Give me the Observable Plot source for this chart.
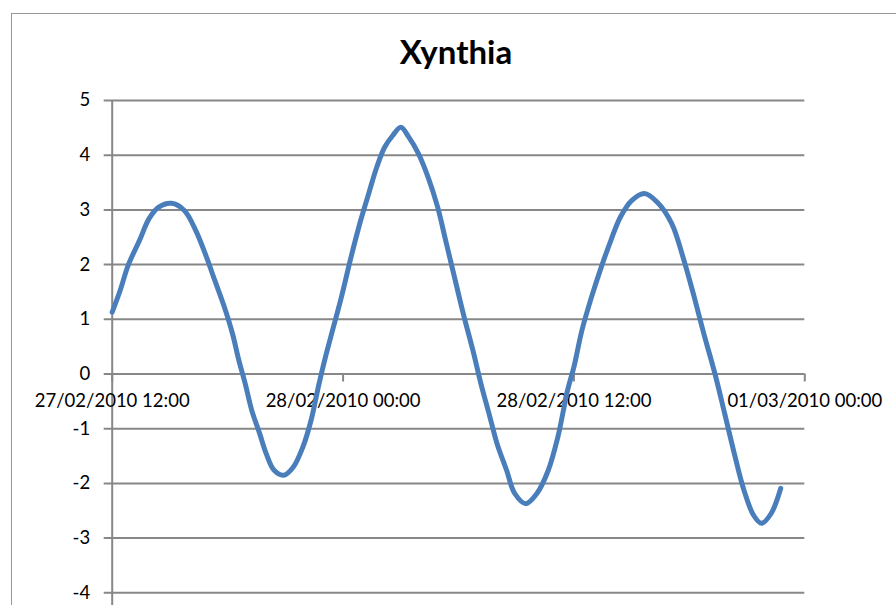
<!DOCTYPE html>
<html>
<head>
<meta charset="utf-8">
<script src="https://cdn.jsdelivr.net/npm/d3@7"></script>
<script src="https://cdn.jsdelivr.net/npm/@observablehq/plot@0.6"></script>
<style>
  html, body { margin: 0; padding: 0; background: #fff; overflow: hidden; }
  #frame { position: absolute; left: 10.5px; top: 12.5px; width: 1200px; height: 1000px;
           border: 1.5px solid #979797; box-sizing: border-box; }
  #title { position: absolute; left: 0; width: 912px; top: 31px; text-align: center;
           font-family: Lato, "Liberation Sans", sans-serif; font-weight: bold; font-size: 33px;
           line-height: normal; color: #000; }
  #chart { position: absolute; left: 0; top: 0; }
</style>
</head>
<body>
<div id="frame"></div>
<div id="title">Xynthia</div>
<div id="chart"></div>
<script>
// Water level (m) during storm Xynthia, 27/02/2010 12:00 – 28/02/2010 22:45
const times = [
  "2010-02-27T12:00", "2010-02-27T12:25", "2010-02-27T12:50", "2010-02-27T13:25", "2010-02-27T13:55",
  "2010-02-27T14:25", "2010-02-27T15:05", "2010-02-27T15:45", "2010-02-27T16:20", "2010-02-27T16:50",
  "2010-02-27T17:20", "2010-02-27T17:50", "2010-02-27T18:15", "2010-02-27T18:35", "2010-02-27T18:55",
  "2010-02-27T19:15", "2010-02-27T19:40", "2010-02-27T20:00", "2010-02-27T20:25", "2010-02-27T20:55",
  "2010-02-27T21:25", "2010-02-27T21:55", "2010-02-27T22:20", "2010-02-27T22:45", "2010-02-27T23:05",
  "2010-02-27T23:30", "2010-02-27T23:55", "2010-02-28T00:25", "2010-02-28T00:55", "2010-02-28T01:20",
  "2010-02-28T01:45", "2010-02-28T02:10", "2010-02-28T02:35", "2010-02-28T03:00", "2010-02-28T03:25",
  "2010-02-28T03:55", "2010-02-28T04:25", "2010-02-28T04:55", "2010-02-28T05:20", "2010-02-28T05:45",
  "2010-02-28T06:15", "2010-02-28T06:45", "2010-02-28T07:10", "2010-02-28T07:35", "2010-02-28T08:00",
  "2010-02-28T08:30", "2010-02-28T08:55", "2010-02-28T09:30", "2010-02-28T10:05", "2010-02-28T10:40",
  "2010-02-28T11:10", "2010-02-28T11:40", "2010-02-28T12:00", "2010-02-28T12:25", "2010-02-28T12:55",
  "2010-02-28T13:25", "2010-02-28T13:55", "2010-02-28T14:25", "2010-02-28T15:00", "2010-02-28T15:40",
  "2010-02-28T16:20", "2010-02-28T17:05", "2010-02-28T17:40", "2010-02-28T18:15", "2010-02-28T18:45",
  "2010-02-28T19:20", "2010-02-28T19:50", "2010-02-28T20:20", "2010-02-28T20:50", "2010-02-28T21:20",
  "2010-02-28T21:45", "2010-02-28T22:15", "2010-02-28T22:45"
];
const levels = [
  1.13, 1.53, 1.99, 2.44, 2.84,
  3.05, 3.12, 2.99, 2.63, 2.20,
  1.71, 1.22, 0.74, 0.25, -0.18,
  -0.66, -1.09, -1.45, -1.76, -1.85,
  -1.70, -1.33, -0.85, -0.18, 0.31,
  0.86, 1.41, 2.14, 2.81, 3.30,
  3.78, 4.15, 4.36, 4.51, 4.33,
  4.03, 3.60, 3.05, 2.44, 1.83,
  1.10, 0.43, -0.18, -0.72, -1.27,
  -1.76, -2.18, -2.37, -2.18, -1.76,
  -1.15, -0.30, 0.13, 0.80, 1.41,
  1.95, 2.44, 2.87, 3.17, 3.30,
  3.14, 2.75, 2.14, 1.41, 0.74,
  0.00, -0.72, -1.45, -2.12, -2.58,
  -2.73, -2.55, -2.09
];

const xTickTimes = ["2010-02-27T12:00", "2010-02-28T00:00", "2010-02-28T12:00", "2010-03-01T00:00"];
const xTickLabels = ["27/02/2010 12:00", "28/02/2010 00:00", "28/02/2010 12:00", "01/03/2010 00:00"];
const yTicks = [-4, -3, -2, -1, 0, 1, 2, 3, 4, 5];

const series = times.map((t, i) => ({time: new Date(t), level: levels[i]}));
const xTicks = xTickTimes.map((t, i) => ({time: new Date(t), label: xTickLabels[i]}));
const xStart = xTicks[0].time;
const xEnd = xTicks[xTicks.length - 1].time;

const grey = "#878787";
const font = "Lato, 'Liberation Sans', sans-serif";

const chart = Plot.plot({
  width: 896,
  height: 657,
  marginLeft: 111.7,
  marginRight: 91.7,
  marginTop: 100,
  marginBottom: 10,
  style: {fontFamily: font, fontSize: "18.5px", color: "#000", background: "transparent", overflow: "visible"},
  x: {type: "time", domain: [xStart, xEnd], axis: null},
  y: {domain: [-5, 5], axis: null},
  marks: [
    // horizontal gridlines, extended left as tick marks
    Plot.ruleY(yTicks, {x1: xStart, x2: xEnd, stroke: grey, strokeWidth: 2, insetLeft: -8}),
    // vertical value axis
    Plot.ruleX([xStart], {y1: -5, y2: 5, stroke: grey, strokeWidth: 2}),
    // category tick marks hanging below the zero line
    Plot.ruleX(xTicks, {x: "time", y1: 0, y2: 0, insetBottom: -8, stroke: grey, strokeWidth: 2}),
    // value labels
    Plot.text(yTicks, {x: xStart, y: d => d, text: d => String(d), textAnchor: "end", dx: -22, fill: "#000"}),
    // date labels under the zero line
    Plot.text(xTicks, {x: "time", y: 0, text: "label", dy: 27, fill: "#000"}),
    // water level
    Plot.line(series, {x: "time", y: "level", stroke: "#4a7ebb", strokeWidth: 5, curve: "catmull-rom",
                       strokeLinejoin: "round", strokeLinecap: "round"})
  ]
});
document.getElementById("chart").appendChild(chart);
</script>
</body>
</html>
